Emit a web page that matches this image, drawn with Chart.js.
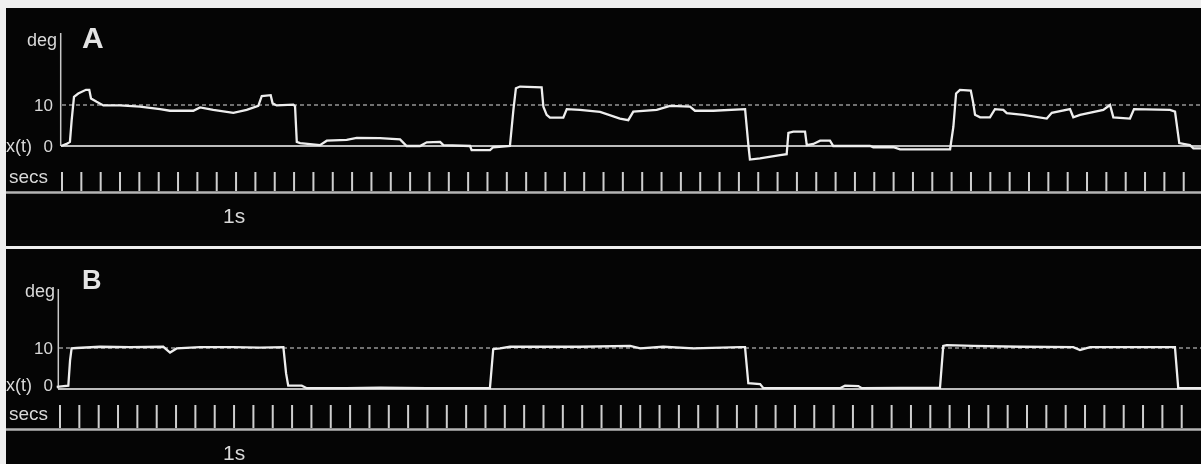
<!DOCTYPE html>
<html><head><meta charset="utf-8">
<script src="https://cdn.jsdelivr.net/npm/chart.js@4.4.0/dist/chart.umd.min.js"></script>
<style>
html,body{margin:0;padding:0;}
body{width:1201px;height:464px;background:#efefef;position:relative;overflow:hidden;font-family:"Liberation Sans",Arial,sans-serif;}
.panel{position:absolute;background:#050505;}
.panel canvas{position:absolute;left:0;top:0;}
.lbl{position:absolute;color:#d9d9d9;line-height:1;white-space:nowrap;}
</style></head><body>
<div class="panel" style="left:6px;top:8px;width:1195px;height:238px"><canvas id="cA" width="1195" height="238"></canvas></div>
<div class="panel" style="left:6px;top:249px;width:1195px;height:215px"><canvas id="cB" width="1195" height="215"></canvas></div>
<script>
// ---- data (time in s, angle in deg) ----
const timeA = [-0.005,0.024,0.041,0.050,0.062,0.084,0.124,0.141,0.150,0.179,0.214,0.300,0.403,0.507,0.558,0.679,0.714,0.782,0.886,0.955,1.015,1.033,1.079,1.089,1.110,1.196,1.205,1.214,1.231,1.334,1.369,1.472,1.524,1.644,1.748,1.782,1.851,1.886,1.955,1.972,2.110,2.118,2.213,2.230,2.316,2.334,2.347,2.368,2.480,2.489,2.506,2.523,2.592,2.610,2.678,2.782,2.885,2.928,2.954,3.075,3.144,3.247,3.273,3.368,3.532,3.549,3.557,3.609,3.713,3.747,3.756,3.781,3.842,3.851,3.885,3.920,3.971,3.988,4.178,4.195,4.299,4.333,4.592,4.609,4.623,4.643,4.699,4.712,4.721,4.747,4.798,4.824,4.867,4.885,4.971,5.092,5.118,5.212,5.229,5.264,5.384,5.419,5.436,5.522,5.543,5.729,5.755,5.777,5.832,5.850,5.889];
const degA  = [0,0.5,1.0,6.3,12.0,12.8,13.7,13.7,11.6,10.8,9.9,9.9,9.6,9.0,8.6,8.6,9.4,8.8,8.1,8.8,9.8,12.2,12.4,10.4,9.9,10.1,9.7,1.0,0.7,0.2,1.3,1.5,2.0,1.9,1.6,0,0,0.9,1.0,0.2,0,-1.0,-1.0,-0.3,0,8.8,14.1,14.5,14.3,9.6,7.6,6.9,6.9,9.0,8.8,8.3,6.7,6.3,8.4,8.8,9.8,9.6,8.6,8.6,9.0,0.2,-3.3,-3.0,-2.2,-2.0,3.2,3.5,3.5,0.2,0.5,1.3,1.3,0,0,-0.3,-0.3,-0.8,-0.8,4.7,12.8,13.7,13.5,10.4,7.6,7.0,7.0,9.0,8.8,8.0,7.6,6.7,8.1,9.0,7.0,7.6,8.8,10.0,7.0,6.7,9.0,8.8,8.4,0.7,0.2,-0.6,-0.6];
const timeB = [-0.017,0.043,0.052,0.060,0.086,0.207,0.362,0.534,0.569,0.603,0.724,0.896,1.034,1.155,1.169,1.180,1.250,1.276,1.482,1.655,1.896,2.223,2.240,2.275,2.327,2.689,2.948,3.000,3.119,3.275,3.516,3.542,3.559,3.620,3.637,4.033,4.059,4.128,4.146,4.550,4.567,4.585,4.722,4.964,5.239,5.274,5.326,5.765,5.782,5.900];
const degB  = [0.5,0.8,7.0,9.9,10.0,10.3,10.2,10.3,8.9,9.9,10.2,10.2,10.1,10.2,3.8,0.8,0.8,0.2,0.2,0.3,0.2,0.2,9.7,9.9,10.3,10.3,10.5,9.9,10.3,9.9,10.2,10.2,1.4,1.2,0.2,0.2,0.8,0.7,0.2,0.3,10.5,10.7,10.5,10.3,10.2,9.5,10.2,10.2,0.2,0.2];
const secTicks = [0,0.1,0.2,0.3,0.4,0.5,0.6,0.7,0.8,0.9,1.0,1.1,1.2,1.3,1.4,1.5,1.6,1.7,1.8,1.9,2.0,2.1,2.2,2.3,2.4,2.5,2.6,2.7,2.8,2.9,3.0,3.1,3.2,3.3,3.4,3.5,3.6,3.7,3.8,3.9,4.0,4.1,4.2,4.3,4.4,4.5,4.6,4.7,4.8,4.9,5.0,5.1,5.2,5.3,5.4,5.5,5.6,5.7,5.8];
const yTickValues = [0, 10];
const refLevel = 10;
const panelLetters = ['A','B'];

// ---- layout (page pixels) ----
const layouts = [
  {canvas:'cA', left:6, top:8, w:1195, h:238, x0:62, y0:146, pxPerSec:193.4, pxPerDeg:4.1,
   axisX:60.7, axisTop:33, refStart:62, baseStart:61, tickTop:172, tickBot:191, secLine:192.5,
   letter:{x:82, base:48, size:30}, deg:{right:57, base:46}, zeroDy:0, secs:{x:9, base:183}, one:{x:223, base:223}},
  {canvas:'cB', left:6, top:249, w:1195, h:215, x0:60, y0:389, pxPerSec:193.4, pxPerDeg:4.1,
   axisX:58.3, axisTop:289, refStart:59, baseStart:58, tickTop:405, tickBot:428, secLine:429.5,
   letter:{x:82, base:290, size:27}, deg:{right:55, base:297}, zeroDy:-4, secs:{x:9, base:420}, one:{x:223, base:460}}
];
const series = [[timeA, degA],[timeB, degB]];

function addLabel(text, x, base, size, opts) {
  opts = opts || {};
  const d = document.createElement('div');
  d.className = 'lbl';
  d.textContent = text;
  d.style.fontSize = size + 'px';
  d.style.top = (base - 0.8465*size) + 'px';
  if (opts.bold) d.style.fontWeight = 'bold';
  if (opts.color) d.style.color = opts.color;
  d.style.left = x + 'px';
  if (opts.right) d.style.transform = 'translateX(-100%)';
  document.body.appendChild(d);
}

layouts.forEach((L, idx) => {
  const T = px => (px - L.x0) / L.pxPerSec;
  const D = py => (L.y0 - py) / L.pxPerDeg;
  const xMin = T(L.left), xMax = T(L.left + L.w);
  const yMax = D(L.top), yMin = D(L.top + L.h);
  const [times, degs] = series[idx];
  const trace = times.map((t, i) => ({x: t, y: degs[i]}));
  const tickPts = [];
  secTicks.forEach(t => { tickPts.push({x: t, y: D(L.tickTop)}, {x: t, y: D(L.tickBot)}, {x: t, y: null}); });
  const chart = new Chart(document.getElementById(L.canvas), {
    type: 'line',
    data: { datasets: [
      {data: trace, borderColor: '#eeeeee', borderWidth: 2.3},
      {data: [{x: T(L.axisX), y: 0}, {x: T(L.axisX), y: D(L.axisTop)}], borderColor: '#c8c8c8', borderWidth: 1.5},
      {data: [{x: T(L.refStart), y: refLevel}, {x: xMax, y: refLevel}], borderColor: '#dddddd', borderWidth: 1.2, borderDash: [4, 3]},
      {data: [{x: T(L.baseStart), y: 0}, {x: xMax, y: 0}], borderColor: '#bdbdbd', borderWidth: 2},
      {data: tickPts, borderColor: '#cfcfcf', borderWidth: 2, spanGaps: false},
      {data: [{x: xMin, y: D(L.secLine)}, {x: xMax, y: D(L.secLine)}], borderColor: '#b5b5b5', borderWidth: 2.5}
    ]},
    options: {
      responsive: false, animation: false, devicePixelRatio: 1, events: [],
      layout: {padding: 0},
      plugins: {legend: {display: false}, tooltip: {enabled: false}, title: {display: false}},
      elements: {point: {radius: 0}, line: {tension: 0, borderCapStyle: 'butt'}},
      scales: {
        x: {type: 'linear', min: xMin, max: xMax, display: false},
        y: {type: 'linear', min: yMin, max: yMax, display: false}
      }
    }
  });
  // texts
  addLabel(panelLetters[idx], L.letter.x, L.letter.base, L.letter.size, {bold: true, color: '#e4e4e4'});
  addLabel('deg', L.deg.right, L.deg.base, 18, {right: true});
  yTickValues.forEach(v => {
    const py = L.top + chart.scales.y.getPixelForValue(v) + (v === 0 ? L.zeroDy : 0);
    const base = py + 0.358*17;
    addLabel(String(v), 53, base, 17, {right: true});
    if (v === 0) addLabel('x(t)', 6, base, 18);
  });
  addLabel('secs', L.secs.x, L.secs.base, 19);
  addLabel('1s', L.one.x, L.one.base, 21);
});
</script>
</body></html>
